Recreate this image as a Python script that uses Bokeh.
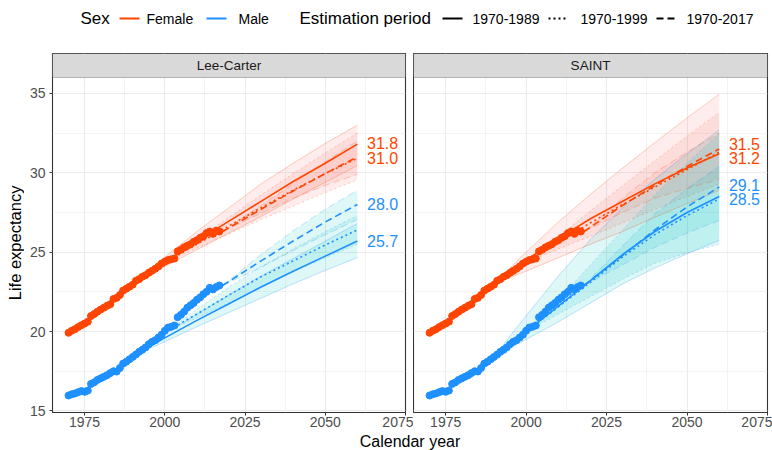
from bokeh.plotting import figure
from bokeh.layouts import column, row
from bokeh.models import FixedTicker, BoxAnnotation, Label, Range1d
from bokeh.embed import file_html
from bokeh.resources import INLINE
from bokeh.core.properties import value

FONT = "Liberation Sans"

# ---------------- data ----------------
obs_years = list(range(1970, 2018))
obs_female = [19.92, 20.05, 20.15, 20.28, 20.40, 20.50, 20.62, 20.98, 21.10, 21.25,
              21.38, 21.50, 21.62, 21.72, 22.05, 22.12, 22.30, 22.58, 22.70, 22.82,
              22.95, 23.20, 23.30, 23.45, 23.55, 23.70, 23.82, 23.95, 24.10, 24.28,
              24.40, 24.50, 24.55, 24.60, 25.05, 25.15, 25.30, 25.40, 25.50, 25.65,
              25.75, 25.90, 26.00, 26.20, 26.30, 26.15, 26.35, 26.30]
obs_male = [15.97, 16.05, 16.10, 16.18, 16.25, 16.20, 16.28, 16.70, 16.80, 16.95,
            17.05, 17.15, 17.25, 17.38, 17.50, 17.48, 17.70, 17.98, 18.10, 18.25,
            18.40, 18.55, 18.72, 18.85, 19.00, 19.20, 19.35, 19.45, 19.62, 19.80,
            20.05, 20.25, 20.30, 20.38, 20.90, 21.05, 21.25, 21.50, 21.65, 21.80,
            22.00, 22.15, 22.35, 22.50, 22.75, 22.65, 22.80, 22.90]

periods = ["1970-1989", "1970-1999", "1970-2017"]
years_p1 = [1990, 2000, 2010, 2020, 2030, 2040, 2050, 2060]
years_p2 = [2000, 2010, 2020, 2030, 2040, 2050, 2060]
years_p3 = [2018, 2030, 2040, 2050, 2060]

# Lee-Carter, female
lc_f_mid_p1 = [23.00, 24.35, 25.70, 26.95, 28.20, 29.45, 30.60, 31.80]
lc_f_lo_p1 = [23.00, 24.10, 25.15, 26.20, 27.25, 28.35, 29.40, 30.45]
lc_f_hi_p1 = [23.00, 24.70, 26.30, 27.80, 29.30, 30.60, 31.85, 33.00]
lc_f_mid_p2 = [24.35, 25.50, 26.65, 27.80, 28.90, 29.95, 30.90]
lc_f_lo_p2 = [24.35, 25.25, 26.15, 27.05, 27.90, 28.75, 29.55]
lc_f_hi_p2 = [24.35, 25.80, 27.20, 28.60, 29.95, 31.25, 32.50]
lc_f_mid_p3 = [26.30, 27.70, 28.85, 29.95, 31.00]
lc_f_lo_p3 = [26.30, 27.45, 28.40, 29.20, 29.90]
lc_f_hi_p3 = [26.30, 27.95, 29.30, 30.70, 32.00]
# Lee-Carter, male
lc_m_mid_p1 = [18.45, 19.60, 20.70, 21.75, 22.80, 23.80, 24.75, 25.70]
lc_m_lo_p1 = [18.45, 19.35, 20.30, 21.20, 22.10, 23.00, 23.85, 24.65]
lc_m_hi_p1 = [18.45, 19.85, 21.10, 22.30, 23.50, 24.60, 25.70, 26.80]
lc_m_mid_p2 = [19.95, 21.10, 22.30, 23.45, 24.45, 25.45, 26.40]
lc_m_lo_p2 = [19.95, 20.85, 21.80, 22.80, 23.75, 24.65, 25.50]
lc_m_hi_p2 = [19.95, 21.40, 22.80, 24.10, 25.20, 26.30, 27.30]
lc_m_mid_p3 = [22.90, 24.45, 25.70, 26.90, 28.00]
lc_m_lo_p3 = [22.90, 24.05, 25.10, 26.10, 27.05]
lc_m_hi_p3 = [22.90, 24.85, 26.35, 27.70, 28.90]
# SAINT, female
st_f_mid_p1 = [23.00, 24.50, 25.85, 27.10, 28.20, 29.30, 30.30, 31.20]
st_f_lo_p1 = [23.00, 23.80, 24.65, 25.50, 26.30, 27.20, 28.05, 28.90]
st_f_hi_p1 = [23.00, 25.00, 26.90, 28.65, 30.30, 31.90, 33.45, 34.95]
st_f_mid_p2 = [24.35, 25.60, 26.85, 28.00, 29.10, 30.20, 31.30]
st_f_lo_p2 = [24.35, 25.20, 26.00, 26.85, 27.70, 28.50, 29.30]
st_f_hi_p2 = [24.35, 25.95, 27.60, 29.20, 30.75, 32.30, 33.80]
st_f_mid_p3 = [26.30, 27.95, 29.20, 30.40, 31.50]
st_f_lo_p3 = [26.30, 27.50, 28.40, 29.00, 29.60]
st_f_hi_p3 = [26.30, 28.40, 30.00, 31.30, 32.50]
# SAINT, male
st_m_mid_p1 = [18.45, 20.00, 21.60, 23.20, 24.85, 26.30, 27.50, 28.50]
st_m_lo_p1 = [18.45, 19.50, 20.60, 21.80, 23.00, 24.00, 24.90, 25.75]
st_m_hi_p1 = [18.45, 21.00, 23.50, 25.80, 27.80, 29.60, 31.20, 32.70]
st_m_mid_p2 = [20.00, 21.55, 23.10, 24.70, 26.10, 27.30, 28.35]
st_m_lo_p2 = [20.00, 21.10, 22.20, 23.30, 24.30, 24.95, 25.50]
st_m_hi_p2 = [20.00, 22.00, 24.20, 26.40, 28.60, 30.60, 32.45]
st_m_mid_p3 = [22.90, 24.80, 26.40, 27.85, 29.10]
st_m_lo_p3 = [22.90, 24.20, 25.30, 26.20, 27.00]
st_m_hi_p3 = [22.90, 25.40, 27.40, 29.00, 30.40]

x_ticks = [1975, 2000, 2025, 2050, 2075]
x_minor = [1987.5, 2012.5, 2037.5, 2062.5]
y_ticks = [15, 20, 25, 30, 35]
y_minor = [17.5, 22.5, 27.5, 32.5]

# ---------------- styles ----------------
COL = {"Female": "#FF4500", "Male": "#1E90FF"}
FILL = {"Female": "#F8766D", "Male": "#00BFC4"}
DASH = {"1970-1989": "solid", "1970-1999": "2 3", "1970-2017": "7 4"}
PERIOD_YEARS = {"1970-1989": years_p1, "1970-1999": years_p2, "1970-2017": years_p3}

models = {
    "Lee-Carter": {
        "Female": [(lc_f_mid_p1, lc_f_lo_p1, lc_f_hi_p1), (lc_f_mid_p2, lc_f_lo_p2, lc_f_hi_p2),
                   (lc_f_mid_p3, lc_f_lo_p3, lc_f_hi_p3)],
        "Male": [(lc_m_mid_p1, lc_m_lo_p1, lc_m_hi_p1), (lc_m_mid_p2, lc_m_lo_p2, lc_m_hi_p2),
                 (lc_m_mid_p3, lc_m_lo_p3, lc_m_hi_p3)],
    },
    "SAINT": {
        "Female": [(st_f_mid_p1, st_f_lo_p1, st_f_hi_p1), (st_f_mid_p2, st_f_lo_p2, st_f_hi_p2),
                   (st_f_mid_p3, st_f_lo_p3, st_f_hi_p3)],
        "Male": [(st_m_mid_p1, st_m_lo_p1, st_m_hi_p1), (st_m_mid_p2, st_m_lo_p2, st_m_hi_p2),
                 (st_m_mid_p3, st_m_lo_p3, st_m_hi_p3)],
    },
}
observed = {"Female": obs_female, "Male": obs_male}

X0, X1 = 1965, 2075
Y0, YP, Y1 = 14.9, 36.0, 37.51   # panel bottom, panel top / strip bottom, strip top
LEG_H = 53
PANEL_H = 379
XLAB_H = 18
YLAB_W = 24
LABEL_GAP = 0.9


def blank_fig(w, h):
    f = figure(width=w, height=h, x_range=Range1d(0, w), y_range=Range1d(0, h),
               output_backend="svg", toolbar_location=None, min_border=0,
               x_axis_location=None, y_axis_location=None, outline_line_color=None)
    f.grid.visible = False
    return f


def style_axis(ax, ticks, minor):
    ax.ticker = FixedTicker(ticks=ticks, minor_ticks=minor)
    ax.axis_line_color = None
    ax.major_tick_line_color = "#333333"
    ax.major_tick_out = 3
    ax.major_tick_in = 0
    ax.minor_tick_out = 0
    ax.minor_tick_in = 0
    ax.major_label_text_font = FONT
    ax.major_label_text_font_size = "14px"
    ax.major_label_text_color = "#4D4D4D"


def make_panel(name, show_y):
    p = figure(width=389 if show_y else 359, height=PANEL_H,
               x_range=Range1d(X0, X1), y_range=Range1d(Y0, Y1),
               output_backend="svg", toolbar_location=None,
               y_axis_location="left" if show_y else None,
               min_border_left=28 if show_y else 0,
               min_border_right=8 if show_y else 5,
               min_border_top=0, min_border_bottom=20)
    p.background_fill_color = "white"
    p.border_fill_color = "white"
    p.outline_line_color = "#333333"
    p.outline_line_width = 1.1
    style_axis(p.xaxis[0], x_ticks, x_minor)
    p.xaxis[0].major_label_standoff = 1
    p.xgrid[0].ticker = FixedTicker(ticks=x_ticks, minor_ticks=x_minor)
    p.ygrid[0].ticker = FixedTicker(ticks=y_ticks, minor_ticks=y_minor)
    if show_y:
        style_axis(p.yaxis[0], y_ticks, y_minor)
        p.yaxis[0].major_label_standoff = 4
    for g in p.grid:
        g.grid_line_color = "#EBEBEB"
        g.grid_line_width = 1.1
        g.minor_grid_line_color = "#EBEBEB"
        g.minor_grid_line_width = 0.6

    data = models[name]
    # ribbons
    for sex in ["Female", "Male"]:
        for per, (mid, lo, hi) in zip(periods, data[sex]):
            p.varea(x=PERIOD_YEARS[per], y1=lo, y2=hi, fill_color=FILL[sex], fill_alpha=0.13)
    # ribbon borders
    for sex in ["Female", "Male"]:
        for per, (mid, lo, hi) in zip(periods, data[sex]):
            for b in (lo, hi):
                p.line(PERIOD_YEARS[per], b, line_color=COL[sex], line_alpha=0.25,
                       line_width=1.0, line_dash=DASH[per])
    # central forecasts
    for sex in ["Female", "Male"]:
        for per, (mid, lo, hi) in zip(periods, data[sex]):
            p.line(PERIOD_YEARS[per], mid, line_color=COL[sex], line_width=1.6,
                   line_dash=DASH[per])
    # observed
    for sex in ["Female", "Male"]:
        p.scatter(obs_years, observed[sex], size=7, color=COL[sex])
    # end labels (1970-1989 and 1970-2017), pushed apart when they collide
    for sex in ["Female", "Male"]:
        vals = [data[sex][0][0][-1], data[sex][2][0][-1]]
        lo_v, hi_v = sorted(vals)
        ys = list(vals)
        if hi_v - lo_v < LABEL_GAP:
            c = (hi_v + lo_v) / 2
            ys = [c + LABEL_GAP / 2 if v == hi_v else c - LABEL_GAP / 2 for v in vals]
        p.text(x=[2063, 2063], y=ys, text=["%.1f" % v for v in vals],
               text_color=COL[sex], text_font=value(FONT), text_font_size="16px",
               text_align="left", text_baseline="middle")
    # strip
    p.add_layout(BoxAnnotation(left=X0, right=X1, bottom=YP, top=Y1,
                               fill_color="#D9D9D9", fill_alpha=1.0,
                               line_color="#333333", line_width=1.1))
    p.add_layout(Label(x=(X0 + X1) / 2, y=(YP + Y1) / 2, text=name,
                       text_align="center", text_baseline="middle",
                       text_font=FONT, text_font_size="13.5px", text_color="#1A1A1A"))
    return p


pL = make_panel("Lee-Carter", True)
pR = make_panel("SAINT", False)
TOTAL_W = YLAB_W + pL.width + pR.width

# y-axis title
ylab = blank_fig(YLAB_W, PANEL_H)
ylab.text(x=[14.5], y=[PANEL_H - (253 - LEG_H)], text=["Life expectancy"], angle=1.5707963,
          text_align="center", text_baseline="middle", text_font=value(FONT),
          text_font_size="16.5px", text_color="black")

# x-axis title
xlab = blank_fig(TOTAL_W, XLAB_H)
xlab.text(x=[409.5], y=[XLAB_H - (440.5 - (LEG_H + PANEL_H))], text=["Calendar year"],
          text_align="center", text_baseline="middle", text_font=value(FONT),
          text_font_size="16px", text_color="black")

# legend
leg = blank_fig(TOTAL_W, LEG_H)
LY = LEG_H - 18
leg.text(x=[80, 299], y=[LY, LY], text=["Sex", "Estimation period"], text_font=value(FONT),
         text_font_size="17px", text_align="left", text_baseline="middle", text_color="black")
leg.text(x=[146, 238, 472, 580, 686], y=[LY] * 5,
         text=["Female", "Male"] + periods, text_font=value(FONT),
         text_font_size="14px", text_align="left", text_baseline="middle", text_color="black")
key_x = {"Female": 119, "Male": 206}
for sex in ["Female", "Male"]:
    leg.segment(x0=[key_x[sex]], y0=[LY], x1=[key_x[sex] + 20], y1=[LY],
                line_color=COL[sex], line_width=2.2)
per_x = {"1970-1989": 442, "1970-1999": 548, "1970-2017": 656}
for per in periods:
    leg.segment(x0=[per_x[per]], y0=[LY], x1=[per_x[per] + 20], y1=[LY],
                line_color="black", line_width=2.2, line_dash=DASH[per])

layout = column(leg, row(ylab, pL, pR), xlab)
open("out.html", "w").write(file_html(layout, INLINE))
